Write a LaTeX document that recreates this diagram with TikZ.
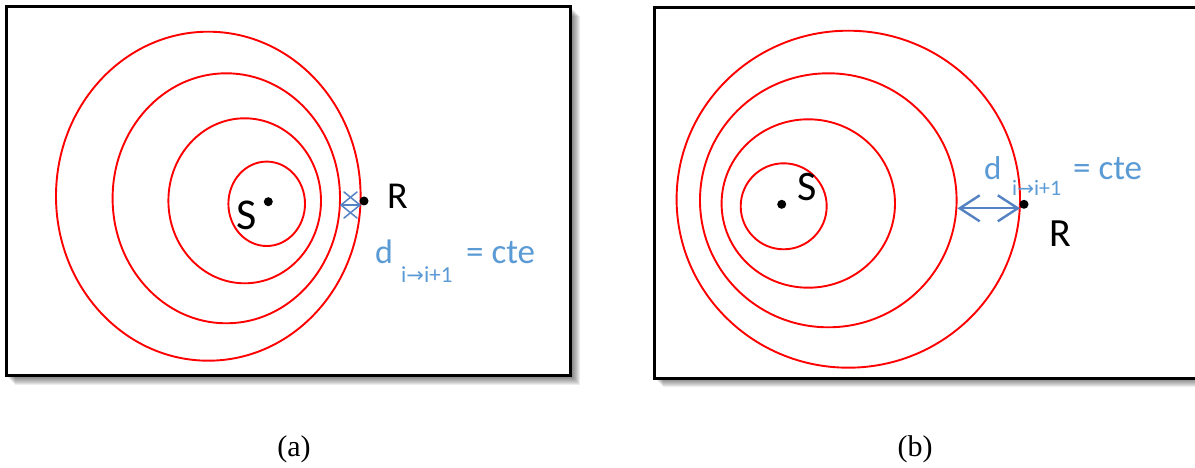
\documentclass[tikz,border=0pt]{standalone}
\usepackage{fontspec}
\setmainfont{Liberation Serif}
\newfontfamily\calib{Carlito}
\newfontfamily\djv{DejaVu Sans}
\usetikzlibrary{arrows.meta}
\definecolor{lblue}{RGB}{91,155,213}
\definecolor{ablue}{RGB}{84,130,195}
\tikzset{
  ringline/.style={draw=red, line width=1.9pt},
  panelbox/.style={draw=black, line width=3pt, fill=white},
  dotnode/.style={circle, fill=black, inner sep=0pt, minimum size=9pt},
  lab/.style={font=\calib, text=black, inner sep=0pt},
  blab/.style={font=\calib, text=lblue, inner sep=0pt, anchor=base west},
  captxt/.style={inner sep=0pt, font=\fontsize{30}{34}\selectfont},
  barb/.style={draw=ablue, line width=1.5pt, line cap=round, line join=round},
}
\begin{document}
\begin{tikzpicture}[x=1pt,y=-1pt]
\useasboundingbox (0,0) rectangle (1195,468);
\clip (0,0) rectangle (1195,468);
% shadows
\foreach \k in {1,...,9}{
  \fill[black, opacity=0.07] (6+\k,7+\k) rectangle (570.5+\k,375.5+\k);
  \fill[black, opacity=0.07] (654+\k,8+\k) rectangle (1215+\k,378+\k);
}
% frames
\path[panelbox] (6,7) rectangle (570.5,375.5);
\path[panelbox] (654,8) rectangle (1215,378);

% ---- panel (a) ----
\draw[ringline] (208.3,196.2) ellipse [x radius=152.3, y radius=164.5];
\draw[ringline] (226.3,198.3) ellipse [x radius=113.7, y radius=125];
\draw[ringline] (244.7,200.8) ellipse [x radius=76.3, y radius=82.5];
\draw[ringline] (266.7,203.8) ellipse [x radius=38.3, y radius=42.2];
\node[dotnode] (Sa) at (268.3,201.7) {};
\node[dotnode] (Ra) at (364,201) {};
\node[lab, font=\calib\fontsize{44}{48}\selectfont] (Sla) at (246.7,215) {S};
\node[lab, font=\calib\fontsize{38}{42}\selectfont] (Rla) at (397.5,196.7) {R};
% squeezed double arrow (heads cross)
\coordinate (Aa1) at (341,205);
\coordinate (Aa2) at (360,205);
\draw[barb] (Aa1) -- (Aa2);
\draw[barb] ([shift={(16,-13)}]Aa1) -- (Aa1) -- ([shift={(16,13)}]Aa1);
\draw[barb] ([shift={(-16,-13)}]Aa2) -- (Aa2) -- ([shift={(-16,13)}]Aa2);
\node[blab, font=\calib\fontsize{34}{38}\selectfont] (da) at (375,263) {d};
\node[blab, font=\calib\fontsize{35}{38}\selectfont] (ca) at (466,263) {= cte};
\node[blab, font=\calib\fontsize{23}{26}\selectfont] (ia) at (401,282) {i{\djv\fontsize{21}{24}\selectfont→}i+1};

% ---- panel (b) ----
\draw[ringline] (848.3,199.2) ellipse [x radius=171.7, y radius=168.5];
\draw[ringline] (828.3,200.3) ellipse [x radius=128.3, y radius=127];
\draw[ringline] (808.3,203.5) ellipse [x radius=86.7, y radius=84.2];
\draw[ringline] (783.7,206.3) ellipse [x radius=43, y radius=43];
\node[dotnode] (Sb) at (781.7,204.3) {};
\node[dotnode] (Rb) at (1024,204.3) {};
\node[lab, font=\calib\fontsize{42}{46}\selectfont] (Slb) at (807.5,187.5) {S};
\node[lab, font=\calib\fontsize{40}{44}\selectfont] (Rlb) at (1060.7,233.3) {R};
\coordinate (Ab1) at (957.5,208.3);
\coordinate (Ab2) at (1020,208.3);
\draw[ablue, line width=2.4pt, {Straight Barb[length=20pt,width=26pt]}-{Straight Barb[length=20pt,width=26pt]}] (Ab1) -- (Ab2);
\node[blab, font=\calib\fontsize{33}{36}\selectfont] (db) at (984,180) {d};
\node[blab, font=\calib\fontsize{35}{38}\selectfont] (cb) at (1073,180) {= cte};
\node[blab, font=\calib\fontsize{22}{24}\selectfont] (ib) at (1012,196) {i{\djv\fontsize{20}{22}\selectfont→}i+1};

% captions
\node[captxt] (capa) at (294,449) {(a)};
\node[captxt] (capb) at (915,449) {(b)};
\end{tikzpicture}
\end{document}
